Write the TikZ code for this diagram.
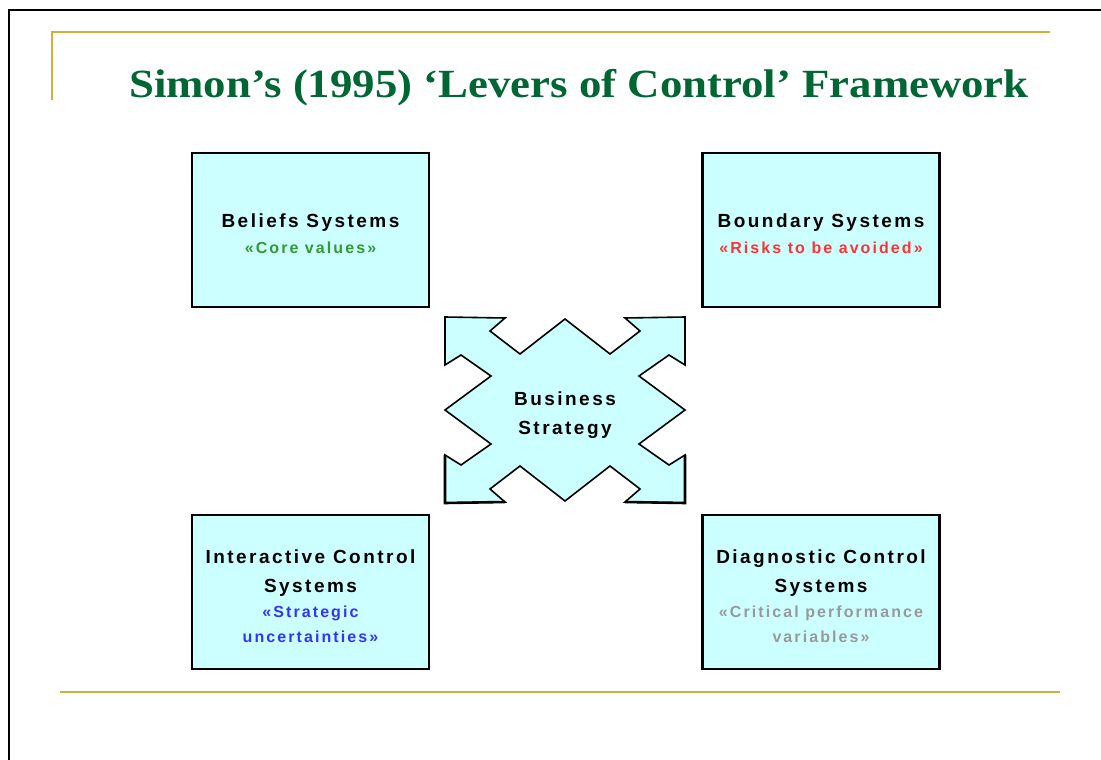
\documentclass[tikz,border=0pt]{standalone}
\usepackage{fontspec}
\setmainfont{Liberation Sans}
\newfontfamily\titlefont{Liberation Serif}[FakeStretch=1.12]
\newfontfamily\leverfont{Liberation Sans}[LetterSpace=13]
\usepackage{xcolor}
\usepackage{tikz}
\usetikzlibrary{positioning}

\definecolor{slidegreen}{RGB}{0,102,51}
\definecolor{slidegold}{RGB}{214,172,58}
\definecolor{leverfill}{RGB}{204,255,255}
\definecolor{coregreen}{RGB}{51,153,51}
\definecolor{riskred}{RGB}{255,51,51}
\definecolor{stratblue}{RGB}{51,51,255}
\definecolor{critgray}{RGB}{153,153,153}

% subtitle line inside a lever box
\newcommand{\lvsub}[2]{{\color{#1}\fontsize{16}{25}\selectfont #2}}

\begin{document}
\begin{tikzpicture}[x=1pt,y=-1pt,
  lever/.style={draw=black,line width=2.4pt,fill=leverfill,minimum width=237pt,minimum height=154pt,inner sep=0pt},
  lvtext/.style={align=center,yshift=-4pt,font=\leverfont\bfseries\fontsize{19}{29}\selectfont},
  core/.style={fill=leverfill,draw=black,line width=1.6pt,line join=miter}]
\useasboundingbox (0,0) rectangle (1101,760);

% slide frame and rules
\draw[line width=2pt] (9,760) -- (9,10) -- (1101,10);
\draw[slidegold,line width=1.5pt] (52,100) -- (52,32) -- (1050,32);
\draw[slidegold,line width=2pt] (60,692) -- (1060,692);

\node[anchor=base,text=slidegreen,font=\titlefont\bfseries\fontsize{40}{42}\selectfont] (title) at (579,97)
  {Simon’s (1995) ‘Levers of Control’ Framework};

% the four levers
\node[lever,label={[lvtext]center:Beliefs Systems\\[-3pt]\lvsub{coregreen}{«Core values»}}] (bel) at (310.5,230) {};
\node[lever,label={[lvtext]center:Boundary Systems\\[-3pt]\lvsub{riskred}{«Risks to be avoided»}}] (bnd) at (821,230) {};
\node[lever,label={[lvtext]center:Interactive Control\\Systems\\[-4pt]\lvsub{stratblue}{«Strategic}\\[-4pt]\lvsub{stratblue}{uncertainties»}}] (inter) at (310.5,592) {};
\node[lever,label={[lvtext]center:Diagnostic Control\\Systems\\[-4pt]\lvsub{critgray}{«Critical performance}\\[-4pt]\lvsub{critgray}{variables»}}] (diag) at (821,592) {};

% four-way arrow in the middle
\begin{scope}[shift={(565,410)}]
\draw[core] (0,-91) -- (45,-56) -- (75,-79) -- (60,-92) -- (120,-93) -- (120,-45) -- (104,-55) -- (74,-34)
  -- (120,0) -- (74,34) -- (104,55) -- (120,45) -- (120,93) -- (60,92) -- (75,79) -- (45,56)
  -- (0,91) -- (-45,56) -- (-75,79) -- (-60,92) -- (-120,93) -- (-120,45) -- (-104,55) -- (-74,34)
  -- (-120,0) -- (-74,-34) -- (-104,-55) -- (-120,-45) -- (-120,-93) -- (-60,-92) -- (-75,-79) -- (-45,-56)
  -- cycle;
\foreach \sx in {-1,1}{
  \draw[line width=2.6pt] (120*\sx,-93) -- (120*\sx,-45);
  \draw[line width=2.6pt] (60*\sx,92) -- (120*\sx,93) -- (120*\sx,45);
}
\end{scope}
\node[lvtext] (strat) at (565,411) {Business\\Strategy};
\end{tikzpicture}
\end{document}
